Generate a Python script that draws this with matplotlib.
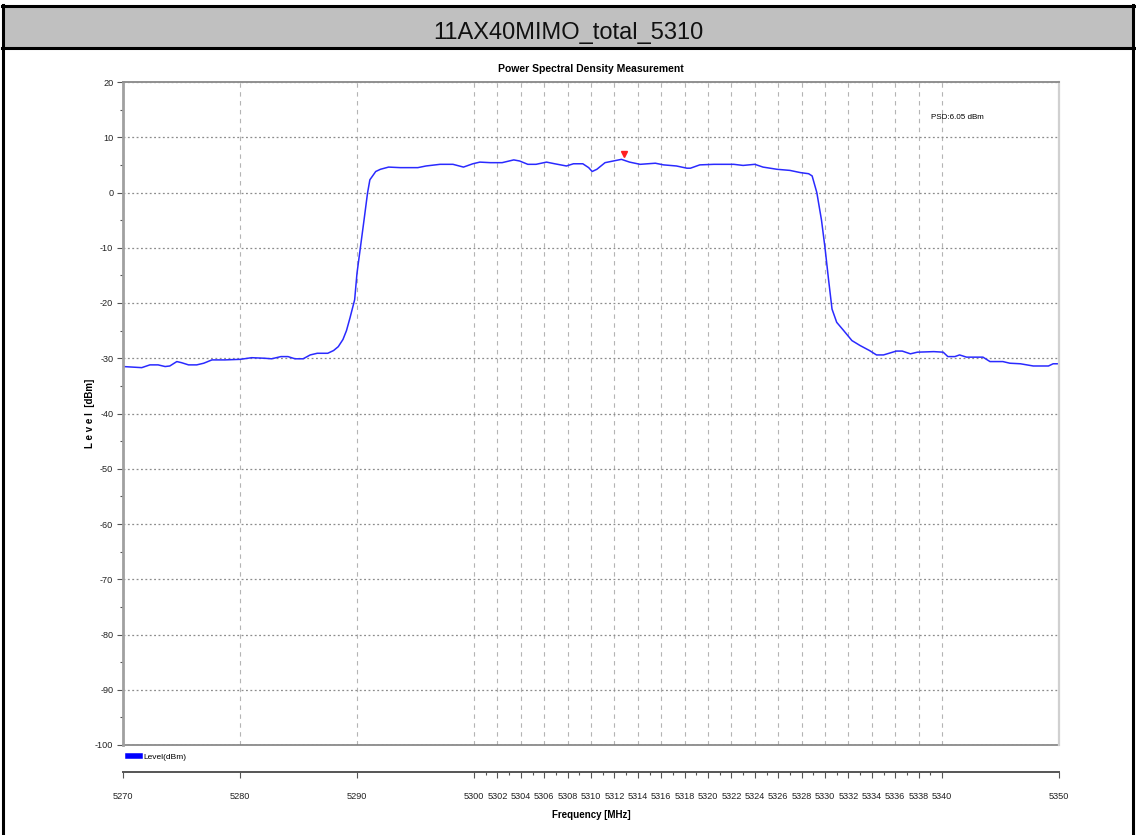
import numpy as np
import matplotlib.pyplot as plt
from matplotlib.lines import Line2D
from matplotlib.patches import Rectangle
import matplotlib.transforms as mtransforms

# trace (MHz, dBm)
freq = [5270.0, 5271.6, 5272.3, 5273.0, 5273.6, 5274.0, 5274.6, 5275.0, 5275.6, 5276.3,
        5276.9, 5277.6, 5278.7, 5280.0, 5281.0, 5282.1, 5282.7, 5283.5, 5284.1, 5284.7,
        5285.4, 5286.0, 5286.6, 5287.5, 5288.0, 5288.4, 5288.8, 5289.1, 5289.4, 5289.8,
        5290.0, 5290.3, 5290.6, 5290.9, 5291.1, 5291.6, 5292.0, 5292.7, 5293.7, 5295.2,
        5295.9, 5297.1, 5298.2, 5299.1, 5299.9, 5300.5, 5301.4, 5302.4, 5303.4, 5303.9,
        5304.6, 5305.3, 5306.2, 5306.9, 5307.9, 5308.5, 5309.3, 5309.8, 5310.1, 5310.5,
        5311.2, 5311.9, 5312.6, 5313.3, 5314.2, 5315.5, 5316.2, 5317.3, 5318.2, 5318.5,
        5319.3, 5320.5, 5321.6, 5322.2, 5323.0, 5324.0, 5324.7, 5325.9, 5327.0, 5327.9,
        5328.6, 5328.9, 5329.3, 5329.7, 5330.0, 5330.3, 5330.6, 5331.0, 5331.6, 5332.3,
        5333.0, 5333.8, 5334.4, 5335.0, 5336.1, 5336.6, 5337.3, 5337.9, 5339.3, 5340.1,
        5340.5, 5341.1, 5341.5, 5342.1, 5343.5, 5344.1, 5345.2, 5345.8, 5346.7, 5347.8,
        5349.1, 5349.5, 5350.0]
level = [-31.5, -31.7, -31.2, -31.2, -31.5, -31.4, -30.6, -30.8, -31.2, -31.2,
         -30.9, -30.3, -30.3, -30.2, -29.9, -30.0, -30.1, -29.7, -29.7, -30.1,
         -30.1, -29.4, -29.1, -29.1, -28.6, -27.9, -26.6, -25.0, -22.7, -19.4,
         -14.6, -9.8, -5.0, -0.1, 2.3, 3.8, 4.2, 4.6, 4.5, 4.5,
         4.8, 5.1, 5.1, 4.6, 5.2, 5.5, 5.4, 5.4, 5.9, 5.7,
         5.1, 5.1, 5.5, 5.2, 4.8, 5.2, 5.2, 4.5, 3.8, 4.2,
         5.4, 5.7, 6.0, 5.5, 5.1, 5.3, 5.0, 4.8, 4.4, 4.4,
         5.0, 5.1, 5.1, 5.1, 4.9, 5.1, 4.6, 4.2, 4.0, 3.6,
         3.4, 3.0, 0.0, -5.0, -10.0, -15.7, -21.1, -23.5, -25.0, -26.8,
         -27.7, -28.6, -29.4, -29.4, -28.7, -28.7, -29.2, -28.9, -28.8, -28.9,
         -29.7, -29.7, -29.4, -29.8, -29.8, -30.6, -30.6, -30.9, -31.0, -31.4,
         -31.4, -31.0, -31.0]

peak_freq = 5312.8
peak_level = 6.05

xticks = [5270, 5280, 5290] + list(range(5300, 5341, 2)) + [5350]
yticks = list(range(-100, 21, 10))

sans = ['Liberation Sans', 'DejaVu Sans']
plt.rcParams['font.family'] = sans
plt.rcParams['axes.unicode_minus'] = False

fig = plt.figure(figsize=(11.36, 8.35), dpi=100)

# page frame and gray title band
fig.add_artist(Rectangle((0.003, 0.944), 0.994, 0.048, transform=fig.transFigure,
                         facecolor='#c0c0c0', edgecolor='none'))
for yy in (0.993, 0.943):
    fig.add_artist(Line2D([0.002, 0.998], [yy, yy], color='black', lw=2.2,
                          transform=fig.transFigure))
for xx in (0.003, 0.997):
    fig.add_artist(Line2D([xx, xx], [0, 0.994], color='black', lw=2.2,
                          transform=fig.transFigure))
fig.text(0.5, 0.961, '11AX40MIMO_total_5310', ha='center', va='center',
         fontsize=17, color='#111111')

ax = fig.add_axes([123 / 1136, 1 - 745 / 835, (1059 - 123) / 1136, (745 - 82) / 835])
line, = ax.plot(freq, level, color='#2a2aff', lw=1.1)
mk = mtransforms.offset_copy(ax.transData, fig=fig, x=0, y=3.5, units='points')
ax.plot([peak_freq], [peak_level], marker='v', color='#ff2020', ms=4.5, transform=mk)

ax.set_xlim(5270, 5350)
ax.set_ylim(-100, 20)
ax.set_xticks(xticks)
ax.set_xticks(list(range(5300, 5341)), minor=True)
ax.set_yticks(yticks)
ax.set_yticks(list(range(-95, 20, 10)), minor=True)
ax.tick_params(labelsize=6.6, length=4, color='#555555', width=0.8, labelcolor='#222222')
ax.tick_params(axis='x', pad=10)
ax.tick_params(axis='y', pad=3)
ax.tick_params(which='minor', length=2.5, color='#555555', width=0.8)

ax.grid(axis='x', which='major', ls=(0, (4, 4)), color='#b4b4b4', lw=0.8)
ax.grid(axis='y', which='major', ls=(0, (1.5, 2)), color='#8c8c8c', lw=0.9)

ax.spines['bottom'].set_position(('outward', 19.5))
ax.spines['bottom'].set_color('#555555')
ax.spines['bottom'].set_linewidth(1.4)
ax.spines['left'].set_color('#a0a0a0')
ax.spines['left'].set_linewidth(2.0)
ax.spines['top'].set_color('#909090')
ax.spines['top'].set_linewidth(1.4)
ax.spines['right'].set_color('#d0d0d0')
ax.spines['right'].set_linewidth(1.6)
ax.plot([0, 1], [0, 0], transform=ax.transAxes, color='#808080', lw=1.2, clip_on=False)

ax.set_title('Power Spectral Density Measurement', fontsize=7.5, fontweight='bold', pad=7)
ax.set_xlabel('Frequency [MHz]', fontsize=7, fontweight='bold', labelpad=7)
ax.set_ylabel('L e v e l  [dBm]', fontsize=7, fontweight='bold', labelpad=0)

ax.text(5341.3, 13.6, 'PSD:6.05 dBm', fontsize=5.8, ha='center', va='center')

proxy = Line2D([], [], color='#0000ff', lw=4)
ax.legend([proxy], ['Level(dBm)'], loc='upper left', bbox_to_anchor=(0.0, -0.005),
          frameon=False, handlelength=1.4, handletextpad=0.5,
          borderaxespad=0.2, prop={'size': 6})

fig.savefig('out.png', dpi=100)
